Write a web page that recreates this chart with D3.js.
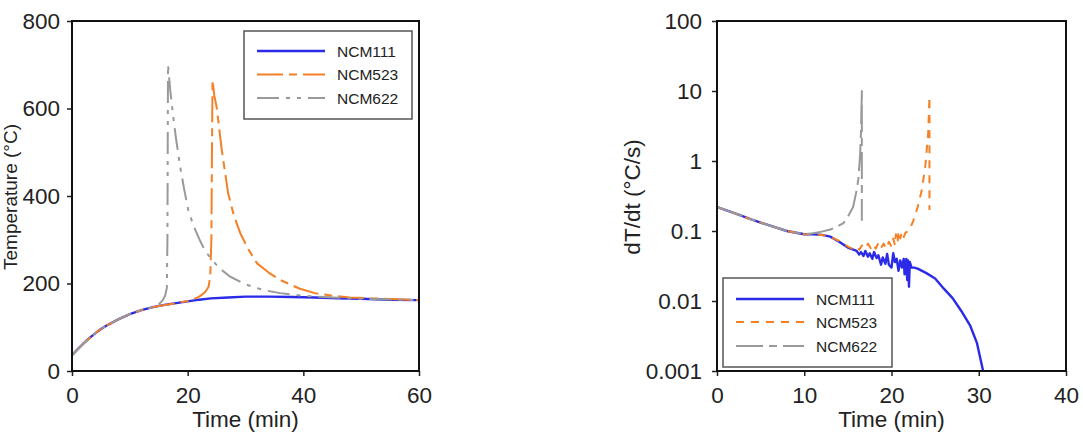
<!DOCTYPE html>
<html>
<head>
<meta charset="utf-8">
<script src="https://cdn.jsdelivr.net/npm/d3@7"></script>
<style>
    html, body { margin: 0; padding: 0; background: #fff; }
    svg { display: block; font-family: "Liberation Sans", Arial, sans-serif; }
</style>
</head>
<body>
<svg id="chart" width="1083" height="435"></svg>
<script>
// ---- data: temperature (°C) vs time (min)
const tempNCM111 = [[0,36],[1,50],[2,63],[3,75],[4,86],[5,96],[6,104],[8,118],[10,130],[12,139],[14,146],[16,151],[18,155],[20,159],[22,163],[24,166],[27,168],[30,170],[34,170],[38,169],[42,168],[46,166],[50,165],[55,163],[60,162]];
const tempNCM523 = [[0,36],[1,50],[2,63],[3,75],[4,86],[5,96],[6,104],[8,118],[10,130],[12,139],[14,146],[16,151],[18,155],[20,160],[21,164],[22,170],[23,180],[23.6,192],[23.9,215],[24.1,300],[24.2,500],[24.3,665],[24.6,630],[25,604],[25.9,505],[27,406],[28,355],[29.1,315],[30.5,278],[32,246],[34,225],[36,208],[39.4,188],[42,178],[45,172],[48,168],[52,166],[56,164],[60,162]];
const tempNCM622 = [[0,36],[1,50],[2,63],[3,75],[4,86],[5,96],[6,104],[8,118],[10,130],[12,139],[14,146],[15,152],[15.7,162],[16.1,172],[16.4,190],[16.5,300],[16.55,500],[16.6,700],[17,640],[17.5,581],[18,530],[18.7,467],[19.4,415],[20.1,368],[21,332],[22.1,299],[23,275],[24.2,254],[25.5,235],[27.3,216],[30,198],[33.1,185],[36,178],[40,172],[45,168],[50,165],[60,162]];

// ---- data: dT/dt (°C/s) vs time (min)
const rateNCM111 = [[0,0.22],[2,0.18],[4,0.145],[6,0.12],[8,0.1],[10,0.09],[11,0.09],[12,0.088],[13,0.083],[14,0.07],[15,0.058],[16,0.052],[16.3,0.046],[16.5,0.05],[16.8,0.044],[17,0.052],[17.3,0.043],[17.5,0.048],[17.8,0.04],[18,0.05],[18.3,0.041],[18.5,0.045],[18.8,0.033],[19,0.042],[19.3,0.034],[19.5,0.047],[19.7,0.033],[20,0.03],[20.2,0.048],[20.4,0.036],[20.6,0.04],[20.8,0.027],[21,0.038],[21.2,0.03],[21.4,0.04],[21.5,0.024],[21.7,0.04],[21.8,0.02],[21.9,0.038],[22,0.016],[22.1,0.036],[22.3,0.03],[22.6,0.03],[23,0.029],[24,0.025],[25,0.021],[26,0.015],[27,0.011],[28,0.0072],[29,0.0045],[29.8,0.0025],[30.5,0.001]];
const rateNCM523 = [[0,0.22],[2,0.18],[4,0.145],[6,0.12],[8,0.1],[10,0.09],[11,0.09],[12,0.088],[13,0.083],[14,0.072],[15,0.06],[15.5,0.056],[16,0.06],[16.3,0.054],[16.6,0.062],[17,0.056],[17.3,0.066],[17.6,0.057],[17.9,0.065],[18.2,0.056],[18.5,0.068],[18.8,0.057],[19.1,0.066],[19.4,0.056],[19.7,0.07],[20,0.06],[20.2,0.078],[20.4,0.062],[20.5,0.09],[20.7,0.068],[20.8,0.1],[21,0.078],[21.2,0.098],[21.4,0.082],[21.6,0.095],[22,0.1],[22.5,0.14],[23,0.22],[23.5,0.4],[23.9,0.9],[24.2,2.5],[24.35,8.3],[24.35,0.2]];
const rateNCM622 = [[0,0.22],[2,0.18],[4,0.145],[6,0.12],[8,0.1],[10,0.09],[11,0.093],[12,0.098],[13,0.105],[14,0.12],[14.5,0.13],[15,0.16],[15.6,0.22],[16,0.38],[16.2,0.55],[16.4,1.2],[16.5,2.5],[16.6,10],[16.6,0.14]];

const seriesNames = ["NCM111", "NCM523", "NCM622"];
const seriesColors = ["#2a2ae8", "#f58025", "#999999"];

const tempTicksX = [0, 20, 40, 60];
const tempTicksY = [0, 200, 400, 600, 800];
const rateTicksX = [0, 10, 20, 30, 40];
const rateTicksY = [0.001, 0.01, 0.1, 1, 10, 100];

const svg = d3.select("#chart");
const ink = "#222";
const bigFont = "22.5px";

const drawPanel = (opt) => {
    const g = svg.append("g");
    const x = opt.x, y = opt.y;
    const [l, r] = x.range();
    const [b, t] = y.range();

    const clipId = "clip-" + opt.id;
    svg.append("clipPath").attr("id", clipId)
        .append("rect").attr("x", l).attr("y", t).attr("width", r - l).attr("height", b - t);

    // curves
    const line = d3.line().x(d => x(d[0])).y(d => y(d[1]));
    opt.series.forEach((s, i) => {
        g.append("path")
            .datum(s)
            .attr("clip-path", `url(#${clipId})`)
            .attr("fill", "none")
            .attr("stroke", seriesColors[i])
            .attr("stroke-width", i === 0 ? 2.4 : 2)
            .attr("stroke-dasharray", opt.dashes[i])
            .attr("stroke-linejoin", "round")
            .attr("d", line);
    });

    // axes
    const ax = g.append("g").attr("transform", `translate(0,${b})`)
        .call(d3.axisBottom(x).tickValues(opt.ticksX).tickSize(5).tickPadding(11).tickFormat(d => d));
    const ay = g.append("g").attr("transform", `translate(${l},0)`)
        .call(d3.axisLeft(y).tickValues(opt.ticksY).tickSize(5).tickPadding(opt.padY).tickFormat(d => String(d)));
    [ax, ay].forEach(a => {
        a.selectAll(".domain").remove();
        a.selectAll("line").attr("stroke", ink).attr("stroke-width", 1.5);
        a.selectAll("text").attr("fill", ink).style("font-size", bigFont)
            .style("font-family", "'Liberation Sans', Arial, sans-serif");
    });

    // frame
    g.append("rect").attr("x", l).attr("y", t).attr("width", r - l).attr("height", b - t)
        .attr("fill", "none").attr("stroke", "#111").attr("stroke-width", 2);

    // titles
    g.append("text").attr("x", (l + r) / 2).attr("y", 427)
        .attr("text-anchor", "middle").attr("fill", ink).style("font-size", bigFont)
        .text("Time (min)");
    g.append("text")
        .attr("transform", `translate(${opt.titleX},${(t + b) / 2 + 1}) rotate(-90)`)
        .attr("text-anchor", "middle").attr("fill", ink).style("font-size", opt.titleSize)
        .text(opt.titleY);

    // legend
    const lg = opt.legend;
    g.append("rect").attr("x", lg.x).attr("y", lg.y).attr("width", lg.w).attr("height", lg.h)
        .attr("fill", "#fff").attr("stroke", "#555").attr("stroke-width", 1.5);
    seriesNames.forEach((name, i) => {
        const yy = lg.rows[i];
        g.append("line")
            .attr("x1", lg.x + 13).attr("x2", lg.x + 81)
            .attr("y1", yy).attr("y2", yy)
            .attr("stroke", seriesColors[i])
            .attr("stroke-width", i === 0 ? 2.4 : 2)
            .attr("stroke-dasharray", opt.dashes[i]);
        g.append("text").attr("x", lg.x + 93).attr("y", yy + 5.5)
            .attr("fill", ink).style("font-size", "15.5px").text(name);
    });
};

drawPanel({
    id: "temp",
    x: d3.scaleLinear().domain([0, 60]).range([72, 419]),
    y: d3.scaleLinear().domain([0, 800]).range([371, 21]),
    ticksX: tempTicksX, ticksY: tempTicksY, padY: 7,
    series: [tempNCM111, tempNCM523, tempNCM622],
    dashes: [null, "26,6,8,6", "22,7,4,7,4,7"],
    titleX: 17, titleY: "Temperature (°C)", titleSize: "19px",
    legend: {x: 244, y: 31, w: 168, h: 88, rows: [51, 74.5, 98]}
});

drawPanel({
    id: "rate",
    x: d3.scaleLinear().domain([0, 40]).range([717, 1066]),
    y: d3.scaleLog().domain([0.001, 100]).range([371, 21]),
    ticksX: rateTicksX, ticksY: rateTicksY, padY: 10,
    series: [rateNCM111, rateNCM523, rateNCM622],
    dashes: [null, "8,7", "27,6,8,6"],
    titleX: 640, titleY: "dT/dt (°C/s)", titleSize: bigFont,
    legend: {x: 723, y: 278, w: 169, h: 89, rows: [299, 322, 346]}
});
</script>
</body>
</html>
